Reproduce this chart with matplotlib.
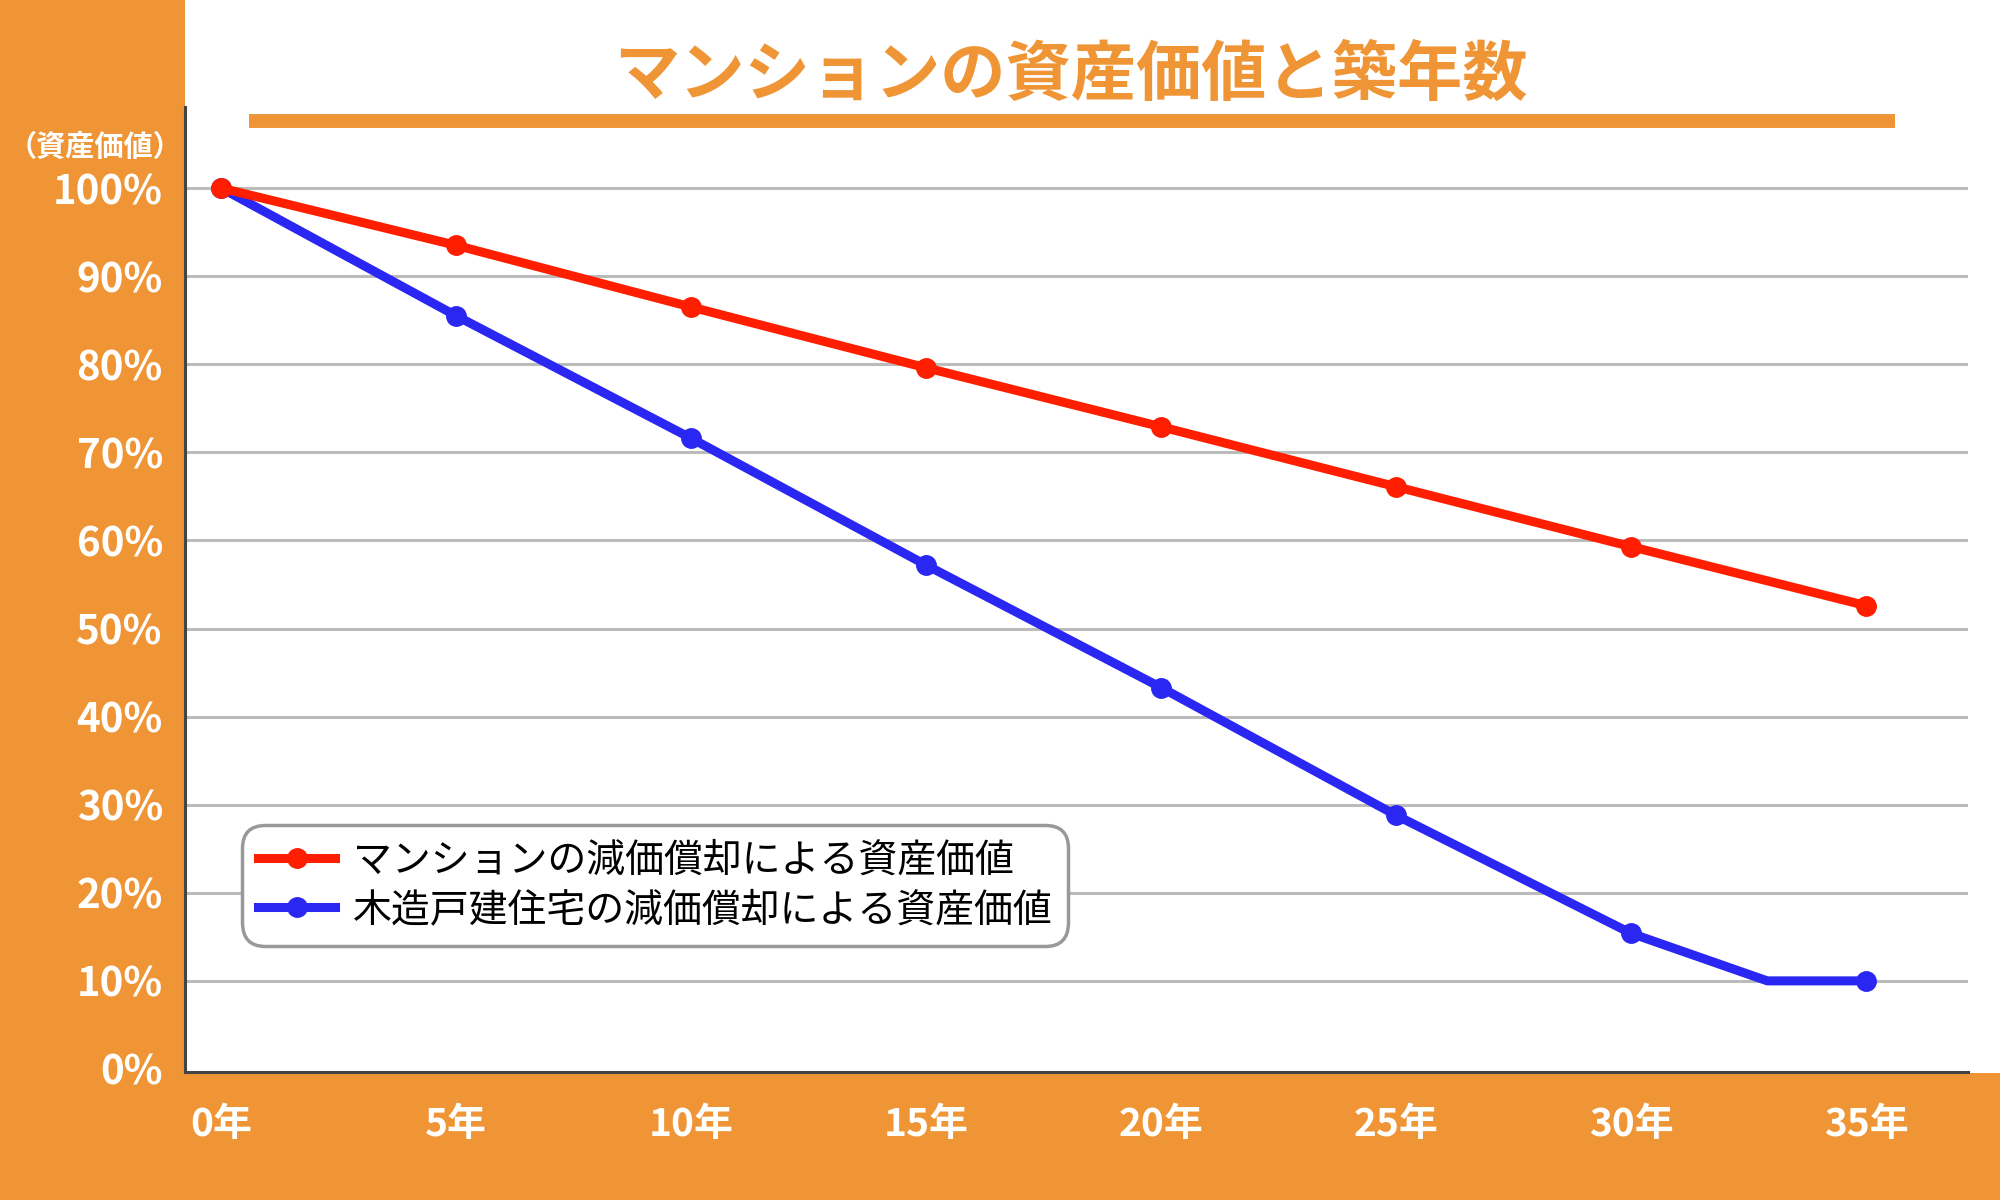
import matplotlib
matplotlib.use("Agg")
import matplotlib.pyplot as plt
from matplotlib.patches import Rectangle
from matplotlib.lines import Line2D

plt.rcParams["font.family"] = ["Noto Sans CJK JP", "DejaVu Sans"]

orange = "#EF9535"

years = [0, 5, 10, 15, 20, 25, 30, 35]
year_labels = ["0年", "5年", "10年", "15年", "20年", "25年", "30年", "35年"]
mansion = [100, 93.5, 86.5, 79.6, 72.9, 66.1, 59.3, 52.6]
wood_x = [0, 5, 10, 15, 20, 25, 30, 32.9, 35]
wood = [100, 85.5, 71.6, 57.2, 43.3, 28.8, 15.4, 10, 10]
wood_mark_x = [0, 5, 10, 15, 20, 25, 30, 35]
wood_mark = [100, 85.5, 71.6, 57.2, 43.3, 28.8, 15.4, 10]
yticks = [0, 10, 20, 30, 40, 50, 60, 70, 80, 90, 100]
title = "マンションの資産価値と築年数"
label_m = "マンションの減価償却による資産価値"
label_w = "木造戸建住宅の減価償却による資産価値"

fig = plt.figure(figsize=(20, 12), dpi=100, facecolor=orange)
# white panel behind the plot, orange strips left and bottom
fig.patches.append(Rectangle((0.0925, 0.106), 1 - 0.0925, 1 - 0.106,
                             transform=fig.transFigure, facecolor="white",
                             edgecolor="none", zorder=-5))

ax = fig.add_axes([0.0925, 0.1067, 0.984 - 0.0925, 0.9108 - 0.1067])
ax.set_zorder(2)
ax.patch.set_alpha(0)
ax.set_xlim(-0.77, 37.17)
ax.set_ylim(-0.34, 109.2)

for y in yticks[1:]:
    ax.axhline(y, color="#BBBBBB", lw=2.2, zorder=1)

ax.plot(wood_x, wood, color="#2B27F2", lw=6.5, zorder=3, solid_capstyle="butt")
ax.plot(wood_mark_x, wood_mark, "o", color="#2B27F2", ms=14, zorder=4)
ax.plot(years, mansion, color="#FF1E00", lw=6.5, zorder=5)
ax.plot(years, mansion, "o", color="#FF1E00", ms=14, zorder=6)

for s in ["top", "right"]:
    ax.spines[s].set_visible(False)
for s in ["left", "bottom"]:
    ax.spines[s].set_color("#444444")
    ax.spines[s].set_linewidth(2.2)

ax.set_yticks(yticks)
ax.set_yticklabels([f"{v}%" for v in yticks])
ax.set_xticks(years)
ax.set_xticklabels(year_labels)
ax.tick_params(axis="y", length=0, pad=16, labelsize=29, labelcolor="white")
ax.tick_params(axis="x", length=0, pad=24, labelsize=28, labelcolor="white")
for t in ax.get_xticklabels() + ax.get_yticklabels():
    t.set_fontweight("bold")

fig.text(0.0475, 1 - 147 / 1200, "（資産価値）", color="white", fontsize=21,
         fontweight="bold", ha="center", va="center")

fig.text(1071 / 2000, 1 - 75 / 1200, title, color=orange, fontsize=47,
         fontweight="bold", ha="center", va="center")
fig.add_artist(Line2D([249 / 2000, 1895 / 2000], [1 - 121 / 1200, 1 - 121 / 1200],
                      transform=fig.transFigure, color=orange, lw=10,
                      solid_capstyle="butt", zorder=5))

h1 = Line2D([], [], color="#FF1E00", lw=6.5, marker="o", ms=14)
h2 = Line2D([], [], color="#2B27F2", lw=6.5, marker="o", ms=14)
leg = ax.legend([h1, h2], [label_m, label_w], loc="lower left",
                bbox_to_anchor=(0.032, 0.131), borderaxespad=0, fontsize=28,
                frameon=True, fancybox=True, handlelength=2.0, labelspacing=0.25,
                handletextpad=0.45, borderpad=0.4, framealpha=1)
leg.get_frame().set_edgecolor("#999999")
leg.get_frame().set_linewidth(2.5)
leg.get_frame().set_boxstyle("round,pad=0,rounding_size=0.6")
leg.set_zorder(10)

fig.savefig("out.png", dpi=100, facecolor=orange)
